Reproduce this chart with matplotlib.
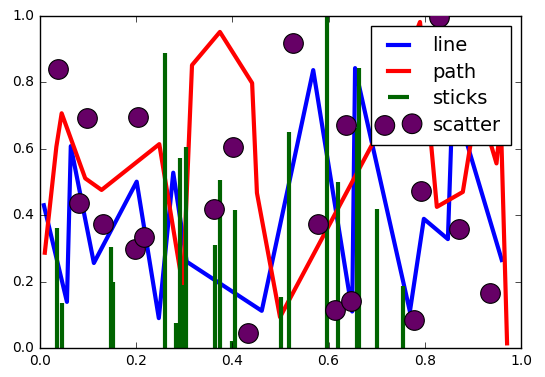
import numpy as np
import matplotlib
matplotlib.use("Agg")
import matplotlib.pyplot as plt
from matplotlib.legend_handler import HandlerPathCollection

plt.style.use("classic")
plt.rcParams["figure.facecolor"] = "white"
plt.rcParams["font.size"] = 10

# blue "line" vertices
line_x = [0.008, 0.056, 0.064, 0.112, 0.201, 0.247, 0.277, 0.305, 0.461,
          0.568, 0.649, 0.655, 0.769, 0.798, 0.848, 0.858, 0.960]
line_y = [0.430, 0.139, 0.608, 0.256, 0.501, 0.090, 0.528, 0.260, 0.112,
          0.837, 0.110, 0.843, 0.110, 0.389, 0.328, 0.760, 0.265]

# red "path" vertices
path_x = [0.010, 0.034, 0.045, 0.094, 0.128, 0.248, 0.297, 0.316, 0.374,
          0.441, 0.451, 0.499, 0.692, 0.790, 0.825, 0.879, 0.910, 0.949,
          0.958, 0.971]
path_y = [0.287, 0.606, 0.707, 0.511, 0.476, 0.614, 0.184, 0.852, 0.952,
          0.798, 0.467, 0.093, 0.617, 0.982, 0.425, 0.470, 0.747, 0.556,
          0.687, 0.014]

# green "sticks"
stick_x = [0.0347, 0.045, 0.148, 0.151, 0.260, 0.282, 0.285, 0.292, 0.299,
           0.303, 0.364, 0.374, 0.400, 0.405, 0.501, 0.518, 0.596, 0.619,
           0.659, 0.664, 0.700, 0.755]
stick_y = [0.360, 0.136, 0.305, 0.200, 0.889, 0.075, 0.036, 0.571, 0.190,
           0.606, 0.310, 0.506, 0.020, 0.416, 0.153, 0.652, 1.000, 0.501,
           0.663, 0.842, 0.420, 0.187]

# purple "scatter"
scat_x = [0.038, 0.098, 0.204, 0.402, 0.527, 0.636, 0.830, 0.082, 0.130,
          0.1975, 0.216, 0.362, 0.433, 0.577, 0.613, 0.646, 0.793, 0.872,
          0.778, 0.936]
scat_y = [0.839, 0.692, 0.697, 0.606, 0.920, 0.672, 0.998, 0.438, 0.372,
          0.297, 0.333, 0.418, 0.044, 0.372, 0.114, 0.142, 0.474, 0.357,
          0.084, 0.165]

fig = plt.figure(figsize=(5.45, 3.77), dpi=100)
ax = fig.add_axes([0.0734, 0.0769, 0.8826, 0.8807])

ax.plot(line_x, line_y, color="blue", lw=3, label="line")
ax.plot(path_x, path_y, color="red", lw=3, label="path")
ax.vlines(stick_x, 0, stick_y, color="darkgreen", lw=3, label="sticks")
sc = ax.scatter(scat_x, scat_y, s=200, c="#660066", edgecolors="black",
                linewidths=0.8, label="scatter", zorder=3)

ax.set_xlim(0, 1)
ax.set_ylim(0, 1)
ax.set_xticks(np.arange(0, 1.01, 0.2))
ax.set_yticks(np.arange(0, 1.01, 0.2))

ax.legend(loc="upper right", fontsize=14, scatterpoints=2,
          handlelength=1.7, borderpad=0.55, labelspacing=0.38,
          handletextpad=0.9,
          handler_map={sc: HandlerPathCollection(marker_pad=0.15)})

fig.savefig("out.png", dpi=100)
